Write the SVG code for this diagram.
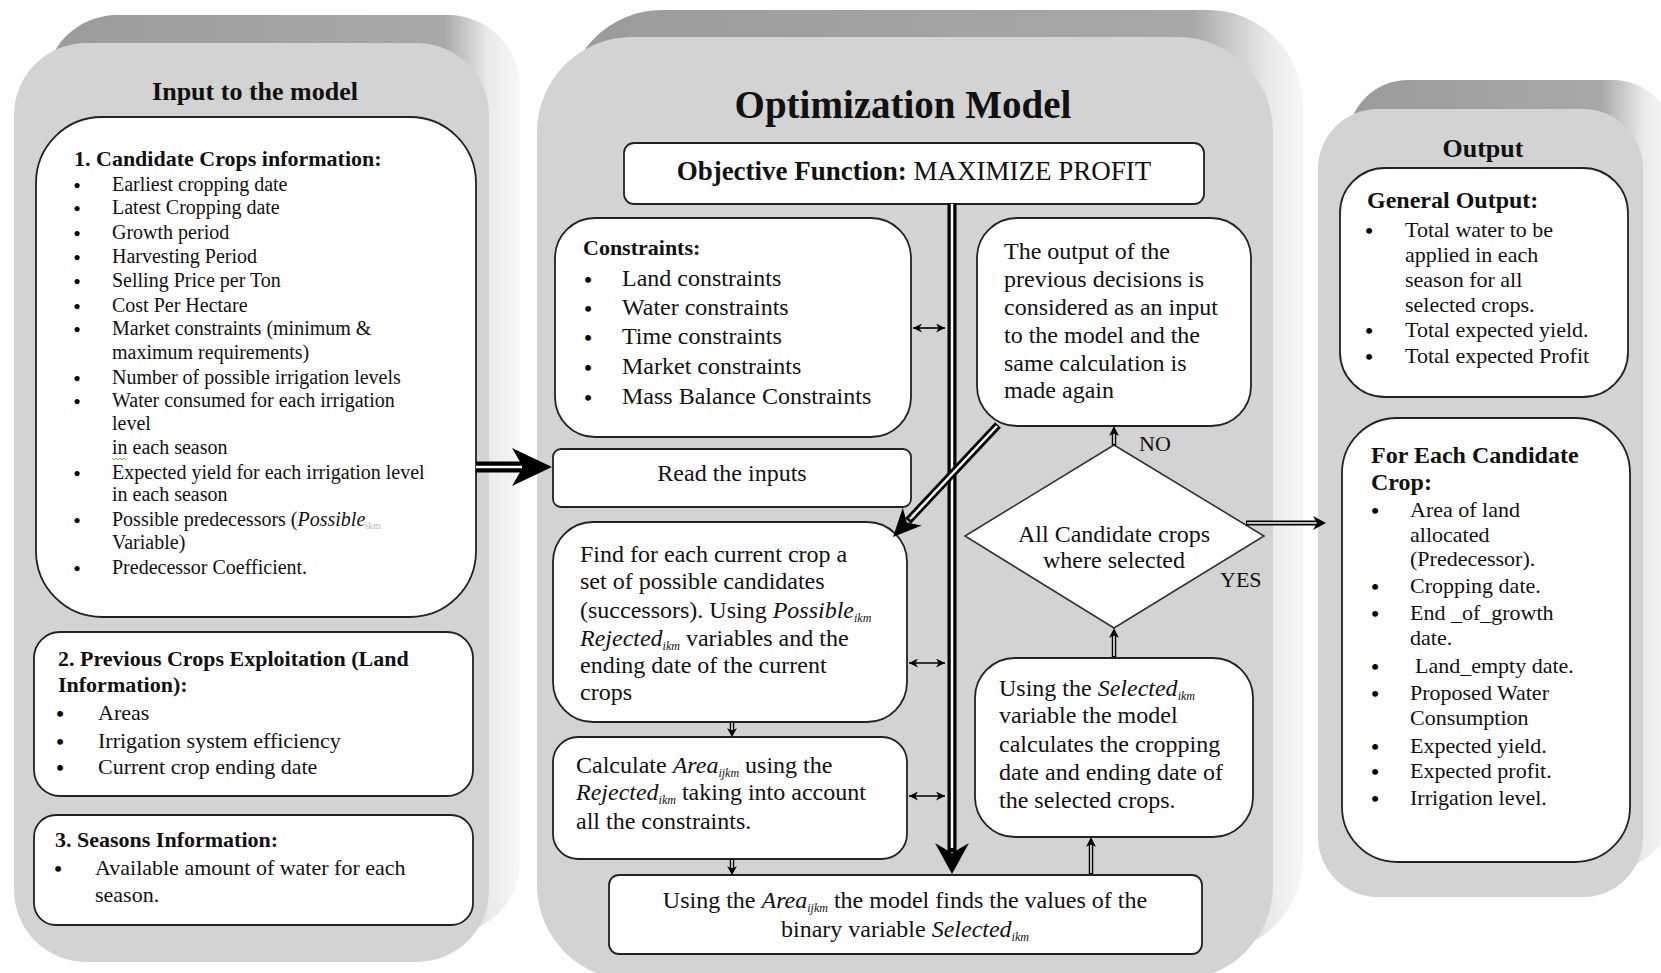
<svg xmlns="http://www.w3.org/2000/svg" width="1661" height="973" viewBox="0 0 1661 973">
<style>
text{font-family:"Liberation Serif","Times New Roman",serif;fill:#111}
.ttl{font-weight:bold;font-size:26px;text-anchor:middle}
.hd22{font-weight:bold;font-size:22px}
.hd24{font-weight:bold;font-size:24px}
.s20{font-size:20px}
.s22{font-size:22px}
.s24{font-size:24px}
.c{text-anchor:middle}
.bul{font-size:22px;font-weight:bold;text-anchor:middle;fill:#000}
.bs{font-size:19px;font-weight:bold;text-anchor:middle;fill:#000}
.it{font-style:italic}
.sub{font-size:12px}
.box{fill:#fff;stroke:#222;stroke-width:1.8}
.face{fill:#d3d3d3}
.blk{stroke:#000;fill:none}
.wht{stroke:#fff;fill:none}
.head{fill:#000;stroke:none}
.thin{stroke:#000;stroke-width:1.6;fill:none}
</style>
<defs>
<linearGradient id="gL" gradientUnits="userSpaceOnUse" x1="45" y1="0" x2="520" y2="0">
<stop offset="0" stop-color="#9b9b9b"/><stop offset="0.84" stop-color="#a8a8a8"/><stop offset="0.935" stop-color="#ebebeb"/><stop offset="1" stop-color="#f7f7f7"/>
</linearGradient>
<linearGradient id="gM" gradientUnits="userSpaceOnUse" x1="567" y1="0" x2="1303" y2="0">
<stop offset="0" stop-color="#9b9b9b"/><stop offset="0.85" stop-color="#a8a8a8"/><stop offset="0.957" stop-color="#ebebeb"/><stop offset="1" stop-color="#f7f7f7"/>
</linearGradient>
<linearGradient id="gO" gradientUnits="userSpaceOnUse" x1="1348" y1="0" x2="1673" y2="0">
<stop offset="0" stop-color="#9b9b9b"/><stop offset="0.78" stop-color="#a8a8a8"/><stop offset="0.91" stop-color="#ebebeb"/><stop offset="1" stop-color="#f7f7f7"/>
</linearGradient>
<marker id="ah" viewBox="0 0 10 10" refX="10" refY="5" markerWidth="10" markerHeight="9" orient="auto-start-reverse" markerUnits="userSpaceOnUse">
<path d="M0,0 L10,5 L0,10 L3,5 Z" fill="#000"/>
</marker>
</defs>

<!-- Panels -->
<g id="panel-input">
<rect x="45" y="15" width="475" height="919" rx="72" fill="url(#gL)"/>
<rect class="face" x="14" y="43" width="475" height="919" rx="72"/>
<text class="ttl" x="255" y="100">Input to the model</text>
</g>
<g id="panel-model">
<rect x="567" y="10" width="736" height="943" rx="95" fill="url(#gM)"/>
<rect class="face" x="537" y="37" width="736" height="943" rx="95"/>
<text class="c" x="903" y="118" style="font-weight:bold;font-size:39px">Optimization Model</text>
</g>
<g id="panel-output">
<rect x="1348" y="80" width="325" height="788" rx="60" fill="url(#gO)"/>
<rect class="face" x="1318" y="109" width="325" height="788" rx="60"/>
<text class="ttl" x="1483" y="157">Output</text>
</g>

<!-- Input nodes -->
<g id="node-candidate-crops">
<rect class="box" x="36" y="117" width="440" height="500" rx="66"/>
<text class="hd22" x="74" y="166">1. Candidate Crops information:</text>
<text class="bs" x="77" y="192">•</text><text class="s20" x="112" y="191">Earliest cropping date</text>
<text class="bs" x="77" y="215">•</text><text class="s20" x="112" y="214">Latest Cropping date</text>
<text class="bs" x="77" y="240">•</text><text class="s20" x="112" y="239">Growth period</text>
<text class="bs" x="77" y="264">•</text><text class="s20" x="112" y="263">Harvesting Period</text>
<text class="bs" x="77" y="288">•</text><text class="s20" x="112" y="287">Selling Price per Ton</text>
<text class="bs" x="77" y="313">•</text><text class="s20" x="112" y="312">Cost Per Hectare</text>
<text class="bs" x="77" y="336">•</text><text class="s20" x="112" y="335">Market constraints (minimum &amp;</text>
<text class="s20" x="112" y="359">maximum requirements)</text>
<text class="bs" x="77" y="385">•</text><text class="s20" x="112" y="384">Number of possible irrigation levels</text>
<text class="bs" x="77" y="408">•</text><text class="s20" x="112" y="407">Water consumed for each irrigation</text>
<text class="s20" x="112" y="430">level</text>
<text class="s20" x="112" y="454">in each season</text>
<path d="M112,458 l2,2 l2,-2 l2,2 l2,-2 l2,2 l2,-2 l2,2" stroke="#3a3" stroke-width="0.8" fill="none"/>
<text class="bs" x="77" y="480">•</text><text class="s20" x="112" y="479">Expected yield for each irrigation level</text>
<text class="s20" x="112" y="501">in each season</text>
<text class="bs" x="77" y="527">•</text><text class="s20" x="112" y="526">Possible predecessors (<tspan class="it">Possible</tspan><tspan font-size="10" dy="3" fill="#bbb">ikm</tspan></text>
<text class="s20" x="112" y="549">Variable)</text>
<text class="bs" x="77" y="575">•</text><text class="s20" x="112" y="574">Predecessor Coefficient.</text>
</g>
<g id="node-previous-crops">
<rect class="box" x="34" y="632" width="439" height="164" rx="26"/>
<text class="hd22" x="58" y="666">2. Previous Crops Exploitation (Land</text>
<text class="hd22" x="58" y="692">Information):</text>
<text class="bul" x="60" y="721">•</text><text class="s22" x="98" y="720">Areas</text>
<text class="bul" x="60" y="749">•</text><text class="s22" x="98" y="748">Irrigation system efficiency</text>
<text class="bul" x="60" y="775">•</text><text class="s22" x="98" y="774">Current crop ending date</text>
</g>
<g id="node-seasons">
<rect class="box" x="34" y="815" width="439" height="110" rx="22"/>
<text class="hd22" x="55" y="847">3. Seasons Information:</text>
<text class="bul" x="58" y="876">•</text><text class="s22" x="95" y="875">Available amount of water for each</text>
<text class="s22" x="95" y="902">season.</text>
</g>

<!-- Model nodes -->
<g id="node-objective">
<rect class="box" x="624" y="143" width="580" height="61" rx="10"/>
<text class="c" x="914" y="180" style="font-size:27px"><tspan font-weight="bold">Objective Function:</tspan> MAXIMIZE PROFIT</text>
</g>
<g id="node-constraints">
<rect class="box" x="555" y="218" width="356" height="219" rx="40"/>
<text class="hd22" x="583" y="255">Constraints:</text>
<text class="bul" x="588" y="287">•</text><text class="s24" x="622" y="286">Land constraints</text>
<text class="bul" x="588" y="316">•</text><text class="s24" x="622" y="315">Water constraints</text>
<text class="bul" x="588" y="345">•</text><text class="s24" x="622" y="344">Time constraints</text>
<text class="bul" x="588" y="375">•</text><text class="s24" x="622" y="374">Market constraints</text>
<text class="bul" x="588" y="405">•</text><text class="s24" x="622" y="404">Mass Balance Constraints</text>
</g>
<g id="node-previous-output">
<rect class="box" x="977" y="218" width="274" height="208" rx="40"/>
<text class="s24" x="1004" y="259">The output of the</text>
<text class="s24" x="1004" y="287">previous decisions is</text>
<text class="s24" x="1004" y="315">considered as an input</text>
<text class="s24" x="1004" y="343">to the model and the</text>
<text class="s24" x="1004" y="371">same calculation is</text>
<text class="s24" x="1004" y="398">made again</text>
</g>
<g id="node-read-inputs">
<rect class="box" x="553" y="449" width="358" height="58" rx="8"/>
<text class="s24 c" x="732" y="481">Read the inputs</text>
</g>
<g id="node-find">
<rect class="box" x="553" y="522" width="354" height="200" rx="40"/>
<text class="s24" x="580" y="562">Find for each current crop a</text>
<text class="s24" x="580" y="589">set of possible candidates</text>
<text class="s24" x="580" y="618">(successors). Using <tspan class="it">Possible</tspan><tspan class="sub it" dy="4">ikm</tspan></text>
<text class="s24" x="580" y="646"><tspan class="it">Rejected</tspan><tspan class="sub it" dy="4">ikm</tspan><tspan dy="-4"> variables and the</tspan></text>
<text class="s24" x="580" y="673">ending date of the current</text>
<text class="s24" x="580" y="700">crops</text>
</g>
<g id="node-calculate">
<rect class="box" x="553" y="737" width="354" height="122" rx="25"/>
<text class="s24" x="576" y="773">Calculate <tspan class="it">Area</tspan><tspan class="sub it" dy="4">ijkm</tspan><tspan dy="-4"> using the</tspan></text>
<text class="s24" x="576" y="800"><tspan class="it">Rejected</tspan><tspan class="sub it" dy="4">ikm</tspan><tspan dy="-4"> taking into account</tspan></text>
<text class="s24" x="576" y="829">all the constraints.</text>
</g>
<g id="node-binary">
<rect class="box" x="609" y="875" width="593" height="79" rx="10"/>
<text class="s24 c" x="905" y="908">Using the <tspan class="it">Area</tspan><tspan class="sub it" dy="4">ijkm</tspan><tspan dy="-4"> the model finds the values of the</tspan></text>
<text class="s24 c" x="905" y="937">binary variable <tspan class="it">Selected</tspan><tspan class="sub it" dy="4">ikm</tspan></text>
</g>
<g id="node-decision">
<polygon points="1114,445 1264,536 1114,628 965,536" fill="#fff" stroke="#333" stroke-width="1.6"/>
<text class="s24 c" x="1114" y="542">All Candidate crops</text>
<text class="s24 c" x="1114" y="568">where selected</text>
</g>
<g id="node-selected">
<rect class="box" x="975" y="658" width="278" height="179" rx="40"/>
<text class="s24" x="999" y="696">Using the <tspan class="it">Selected</tspan><tspan class="sub it" dy="4">ikm</tspan></text>
<text class="s24" x="999" y="723">variable the model</text>
<text class="s24" x="999" y="752">calculates the cropping</text>
<text class="s24" x="999" y="780">date and ending date of</text>
<text class="s24" x="999" y="808">the selected crops.</text>
</g>

<!-- Output nodes -->
<g id="node-general-output">
<rect class="box" x="1340" y="168" width="288" height="229" rx="45"/>
<text class="hd24" x="1367" y="208">General Output:</text>
<text class="bul" x="1369" y="238">•</text><text class="s22" x="1405" y="237">Total water to be</text>
<text class="s22" x="1405" y="262">applied in each</text>
<text class="s22" x="1405" y="287">season for all</text>
<text class="s22" x="1405" y="312">selected crops.</text>
<text class="bul" x="1369" y="338">•</text><text class="s22" x="1405" y="337">Total expected yield.</text>
<text class="bul" x="1369" y="364">•</text><text class="s22" x="1405" y="363">Total expected Profit</text>
</g>
<g id="node-each-crop">
<rect class="box" x="1342" y="418" width="288" height="444" rx="55"/>
<text class="hd24" x="1371" y="463">For Each Candidate</text>
<text class="hd24" x="1371" y="490">Crop:</text>
<text class="bul" x="1375" y="518">•</text><text class="s22" x="1410" y="517">Area of land</text>
<text class="s22" x="1410" y="542">allocated</text>
<text class="s22" x="1410" y="566">(Predecessor).</text>
<text class="bul" x="1375" y="594">•</text><text class="s22" x="1410" y="593">Cropping date.</text>
<text class="bul" x="1375" y="621">•</text><text class="s22" x="1410" y="620">End _of_growth</text>
<text class="s22" x="1410" y="645">date.</text>
<text class="bul" x="1375" y="674">•</text><text class="s22" x="1415" y="673">Land_empty date.</text>
<text class="bul" x="1375" y="701">•</text><text class="s22" x="1410" y="700">Proposed Water</text>
<text class="s22" x="1410" y="725">Consumption</text>
<text class="bul" x="1375" y="754">•</text><text class="s22" x="1410" y="753">Expected yield.</text>
<text class="bul" x="1375" y="779">•</text><text class="s22" x="1410" y="778">Expected profit.</text>
<text class="bul" x="1375" y="806">•</text><text class="s22" x="1410" y="805">Irrigation level.</text>
</g>

<!-- Connectors -->
<g id="connectors">
<line class="blk" x1="476" y1="467" x2="524" y2="467" stroke-width="11"/>
<line class="wht" x1="476" y1="467" x2="522" y2="467" stroke-width="2.5"/>
<path class="head" d="M552,467 L512,448 L523,467 L512,486 Z"/>
<line class="blk" x1="952" y1="204" x2="952" y2="852" stroke-width="9"/>
<line class="wht" x1="952" y1="204" x2="952" y2="848" stroke-width="2.5"/>
<path class="head" d="M952,874 L935,843 L952,853 L969,843 Z"/>
<line class="blk" x1="998" y1="425" x2="908" y2="521" stroke-width="8"/>
<line class="wht" x1="997" y1="426" x2="910" y2="519" stroke-width="2.5"/>
<path class="head" d="M893,537 L921.7,525.5 L906.7,522.5 L902.8,507.7 Z"/>
<line class="thin" x1="913" y1="328" x2="945" y2="328" marker-start="url(#ah)" marker-end="url(#ah)"/>
<line class="thin" x1="909" y1="663" x2="945" y2="663" marker-start="url(#ah)" marker-end="url(#ah)"/>
<line class="thin" x1="909" y1="796" x2="945" y2="796" marker-start="url(#ah)" marker-end="url(#ah)"/>
<line class="blk" x1="732" y1="723" x2="732" y2="731" stroke-width="4.5"/>
<line class="wht" x1="732" y1="723" x2="732" y2="730" stroke-width="1.5"/>
<path class="head" d="M732,737 L727,728 L732,731 L737,728 Z"/>
<line class="blk" x1="732" y1="860" x2="732" y2="869" stroke-width="4.5"/>
<line class="wht" x1="732" y1="860" x2="732" y2="868" stroke-width="1.5"/>
<path class="head" d="M732,875 L727,866 L732,869 L737,866 Z"/>
<line class="blk" x1="1114" y1="445" x2="1114" y2="433" stroke-width="4.5"/>
<line class="wht" x1="1114" y1="444" x2="1114" y2="434" stroke-width="1.5"/>
<path class="head" d="M1114,426 L1109,436 L1114,433 L1119,436 Z"/>
<line class="blk" x1="1114" y1="657" x2="1114" y2="635" stroke-width="4.5"/>
<line class="wht" x1="1114" y1="656" x2="1114" y2="636" stroke-width="1.5"/>
<path class="head" d="M1114,628 L1109,638 L1114,635 L1119,638 Z"/>
<line class="blk" x1="1091" y1="874" x2="1091" y2="844" stroke-width="4.5"/>
<line class="wht" x1="1091" y1="873" x2="1091" y2="845" stroke-width="1.5"/>
<path class="head" d="M1091,837 L1086,847 L1091,844 L1096,847 Z"/>
<line class="blk" x1="1246" y1="523" x2="1318" y2="523" stroke-width="5"/>
<line class="wht" x1="1247" y1="523" x2="1317" y2="523" stroke-width="1.6"/>
<path class="head" d="M1326,523 L1313,516 L1317,523 L1313,530 Z"/>
<text class="s22" x="1139" y="451">NO</text>
<text class="s22" x="1220" y="587">YES</text>
</g>
</svg>
